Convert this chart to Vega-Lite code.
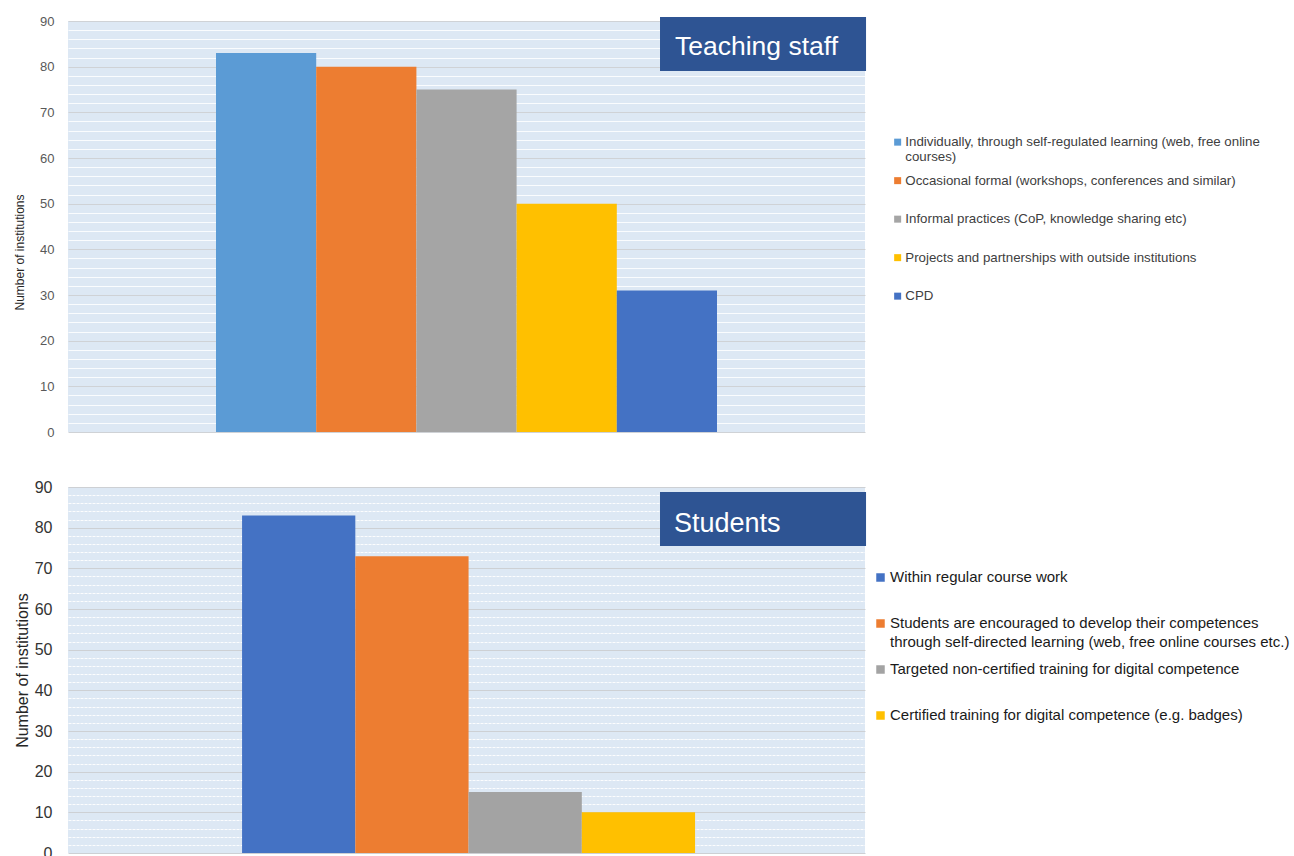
{
  "$schema": "https://vega.github.io/schema/vega-lite/v6.json",
  "background": "white",
  "padding": {"left": 13, "top": 15, "right": 0, "bottom": 0},
  "spacing": 40,
  "config": {
    "font": "Liberation Sans",
    "view": {"stroke": null},
    "axis": {"domain": false, "ticks": false, "tickSize": 0}
  },
  "resolve": {"scale": {"color": "independent", "xOffset": "independent"}},
  "datasets": {
    "staff": [
      {"audience": "Teaching staff", "method": "Individually, through self-regulated learning (web, free online courses)", "institutions": 83},
      {"audience": "Teaching staff", "method": "Occasional formal (workshops, conferences and similar)", "institutions": 80},
      {"audience": "Teaching staff", "method": "Informal practices (CoP, knowledge sharing etc)", "institutions": 75},
      {"audience": "Teaching staff", "method": "Projects and partnerships with outside institutions", "institutions": 50},
      {"audience": "Teaching staff", "method": "CPD", "institutions": 31}
    ],
    "students": [
      {"audience": "Students", "method": "Within regular course work", "institutions": 83},
      {"audience": "Students", "method": "Students are encouraged to develop their competences through self-directed learning (web, free online courses etc.)", "institutions": 73},
      {"audience": "Students", "method": "Targeted non-certified training for digital competence", "institutions": 15},
      {"audience": "Students", "method": "Certified training for digital competence (e.g. badges)", "institutions": 10}
    ]
  },
  "vconcat": [
    {
      "width": 797,
      "height": 411,
      "view": {"fill": "#dde8f4", "stroke": null},
      "resolve": {"scale": {"x": "independent"}, "axis": {"y": "independent"}},
      "layer": [
        {
          "data": {"name": "staff"},
          "mark": {"type": "bar"},
          "encoding": {
            "x": {"field": "audience", "type": "nominal", "axis": null,
                  "scale": {"paddingInner": 0, "paddingOuter": 0.2954, "align": 0.5}},
            "xOffset": {"field": "method", "type": "nominal", "sort": null,
                        "scale": {"paddingInner": 0, "paddingOuter": 0}},
            "y": {"field": "institutions", "type": "quantitative",
                  "scale": {"domain": [0, 90], "nice": false, "zero": true},
                  "axis": {
                    "values": [0, 10, 20, 30, 40, 50, 60, 70, 80, 90],
                    "grid": true, "gridColor": "#cfd2d6", "gridWidth": 1,
                    "labelFontSize": 13, "labelColor": "#595959", "labelPadding": 14,
                    "title": "Number of institutions",
                    "titleFontSize": 12, "titleFontWeight": "normal", "titleColor": "#262626",
                    "titlePadding": 13, "titleY": 231
                  }},
            "color": {"field": "method", "type": "nominal", "sort": null,
                      "scale": {"range": ["#5b9bd5", "#ed7d31", "#a5a5a5", "#ffc000", "#4472c4"]},
                      "legend": {
                        "orient": "none", "legendX": 823, "legendY": 114.5,
                        "title": null, "padding": 0,
                        "symbolType": "square", "symbolSize": 49, "symbolStrokeWidth": 0,
                        "labelFont": "Liberation Sans", "labelFontSize": 13.3, "labelColor": "#404040",
                        "labelOffset": 1, "labelLimit": 600, "labelBaseline": "top",
                        "rowPadding": 8.5, "gridAlign": "all",
                        "labelExpr": "datum.label == 'Individually, through self-regulated learning (web, free online courses)' ? ['Individually, through self-regulated learning (web, free online', 'courses)'] : datum.label",
                        "encode": {"labels": {"update": {"dy": {"value": -7}}}}
                      }}
          }
        },
        {
          "data": {"values": [{"panel": "Teaching staff"}]},
          "mark": {"type": "rect", "color": "#2e5493", "clip": false},
          "encoding": {
            "x": {"datum": 0.7428, "type": "quantitative", "scale": {"domain": [0, 1], "nice": false, "zero": false}, "axis": null},
            "x2": {"datum": 1.0013},
            "y": {"datum": 79.05, "type": "quantitative",
                  "axis": {
                    "values": [2, 4, 6, 8, 12, 14, 16, 18, 22, 24, 26, 28, 32, 34, 36, 38, 42, 44, 46, 48, 52, 54, 56, 58, 62, 64, 66, 68, 72, 74, 76, 78, 82, 84, 86, 88],
                    "orient": "left", "grid": true, "gridColor": "#ffffff", "gridOpacity": 0.85,
                    "labels": false, "title": null
                  }},
            "y2": {"datum": 90.87}
          }
        },
        {
          "data": {"values": [{"panel": "Teaching staff"}]},
          "mark": {"type": "text", "align": "left", "baseline": "alphabetic", "color": "white",
                   "fontSize": 26.5},
          "encoding": {
            "x": {"datum": 0.7616, "type": "quantitative", "scale": {"domain": [0, 1], "nice": false, "zero": false}, "axis": null},
            "y": {"datum": 82.55, "type": "quantitative", "axis": null},
            "text": {"field": "panel"}
          }
        }
      ]
    },
    {
      "width": 797,
      "height": 366,
      "view": {"fill": "#dde8f4", "stroke": null},
      "resolve": {"scale": {"x": "independent"}, "axis": {"y": "independent"}},
      "layer": [
        {
          "data": {"name": "students"},
          "mark": {"type": "bar"},
          "encoding": {
            "x": {"field": "audience", "type": "nominal", "axis": null,
                  "scale": {"paddingInner": 0, "paddingOuter": 0.3797, "align": 0.506}},
            "xOffset": {"field": "method", "type": "nominal", "sort": null,
                        "scale": {"paddingInner": 0, "paddingOuter": 0}},
            "y": {"field": "institutions", "type": "quantitative",
                  "scale": {"domain": [0, 90], "nice": false, "zero": true},
                  "axis": {
                    "values": [0, 10, 20, 30, 40, 50, 60, 70, 80, 90],
                    "grid": true, "gridColor": "#cdd0d4", "gridWidth": 1,
                    "labelFontSize": 16, "labelColor": "#333333", "labelPadding": 16,
                    "title": "Number of institutions",
                    "titleFontSize": 16, "titleFontWeight": "normal", "titleColor": "#262626",
                    "titlePadding": 4
                  }},
            "color": {"field": "method", "type": "nominal", "sort": null,
                      "scale": {"range": ["#4472c4", "#ed7d31", "#a3a3a3", "#ffc000"]},
                      "legend": {
                        "orient": "none", "legendX": 805, "legendY": 83,
                        "title": null, "padding": 0,
                        "symbolType": "square", "symbolSize": 72, "symbolStrokeWidth": 0,
                        "labelFont": "Liberation Sans", "labelFontSize": 15, "labelColor": "#1a1a1a",
                        "labelOffset": 2, "labelLimit": 600, "labelBaseline": "top",
                        "rowPadding": 11, "gridAlign": "all",
                        "labelExpr": "datum.label == 'Students are encouraged to develop their competences through self-directed learning (web, free online courses etc.)' ? ['Students are encouraged to develop their competences', 'through self-directed learning (web, free online courses etc.)'] : datum.label",
                        "encode": {"labels": {"update": {"dy": {"value": -8}, "lineHeight": {"value": 19}}}}
                      }}
          }
        },
        {
          "data": {"values": [{"panel": "Students"}]},
          "mark": {"type": "rect", "color": "#2e5493", "clip": false},
          "encoding": {
            "x": {"datum": 0.7428, "type": "quantitative", "scale": {"domain": [0, 1], "nice": false, "zero": false}, "axis": null},
            "x2": {"datum": 1.0013},
            "y": {"datum": 75.47, "type": "quantitative",
                  "axis": {
                    "values": [2, 4, 6, 8, 12, 14, 16, 18, 22, 24, 26, 28, 32, 34, 36, 38, 42, 44, 46, 48, 52, 54, 56, 58, 62, 64, 66, 68, 72, 74, 76, 78, 82, 84, 86, 88],
                    "orient": "left", "grid": true, "gridColor": "#ffffff", "gridOpacity": 0.9,
                    "gridDash": [3, 1], "labels": false, "title": null
                  }},
            "y2": {"datum": 88.77}
          }
        },
        {
          "data": {"values": [{"panel": "Students"}]},
          "mark": {"type": "text", "align": "left", "baseline": "alphabetic", "color": "white",
                   "fontSize": 27},
          "encoding": {
            "x": {"datum": 0.7604, "type": "quantitative", "scale": {"domain": [0, 1], "nice": false, "zero": false}, "axis": null},
            "y": {"datum": 78.9, "type": "quantitative", "axis": null},
            "text": {"field": "panel"}
          }
        }
      ]
    }
  ]
}
